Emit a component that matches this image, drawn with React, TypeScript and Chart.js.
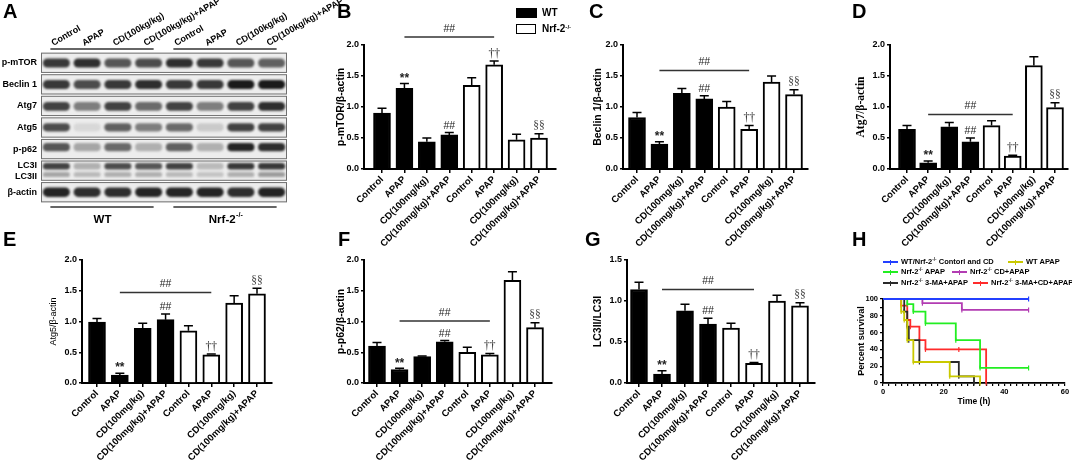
import React, { useEffect, useRef } from 'react';
import { Chart, registerables } from 'chart.js';
Chart.register(...registerables);

const W = 1072;
const H = 462;
const SANS = '"Liberation Sans", Arial, sans-serif';
const SERIF = '"Liberation Serif", "Times New Roman", serif';

// ---------- data ----------
const GROUPS = ['Control', 'APAP', 'CD(100mg/kg)', 'CD(100mg/kg)+APAP', 'Control', 'APAP', 'CD(100mg/kg)', 'CD(100mg/kg)+APAP'];
const MARKS = ['', '**', '', '##', '', '††', '', '§§'];

const PMTOR = [0.90, 1.30, 0.44, 0.55, 1.35, 1.68, 0.47, 0.50];
const PMTOR_SEM = [0.08, 0.08, 0.06, 0.04, 0.12, 0.06, 0.09, 0.07];
const BECLIN = [0.83, 0.40, 1.22, 1.13, 1.00, 0.64, 1.40, 1.20];
const BECLIN_SEM = [0.08, 0.04, 0.08, 0.05, 0.09, 0.06, 0.10, 0.08];
const ATG7 = [0.64, 0.10, 0.68, 0.44, 0.70, 0.21, 1.67, 0.99];
const ATG7_SEM = [0.06, 0.03, 0.07, 0.06, 0.08, 0.01, 0.14, 0.08];
const ATG5 = [0.99, 0.13, 0.89, 1.03, 0.85, 0.46, 1.30, 1.45];
const ATG5_SEM = [0.06, 0.03, 0.08, 0.09, 0.08, 0.01, 0.12, 0.09];
const P62 = [0.60, 0.22, 0.43, 0.67, 0.50, 0.46, 1.67, 0.90];
const P62_SEM = [0.06, 0.02, 0.01, 0.02, 0.08, 0.02, 0.14, 0.08];
const LC3 = [1.14, 0.11, 0.88, 0.72, 0.67, 0.24, 1.00, 0.94];
const LC3_SEM = [0.09, 0.04, 0.08, 0.07, 0.06, 0.01, 0.07, 0.04];

// blot
const LANES = ['Control', 'APAP', 'CD(100kg/kg)', 'CD(100kg/kg)+APAP', 'Control', 'APAP', 'CD(100kg/kg)', 'CD(100kg/kg)+APAP'];
const ROWS = ['p-mTOR', 'Beclin 1', 'Atg7', 'Atg5', 'p-p62', 'LC3I|LC3II', 'β-actin'];
const BAND_PMTOR = [0.85, 0.9, 0.7, 0.75, 0.9, 0.85, 0.7, 0.65];
const BAND_BECLIN = [0.85, 0.75, 0.85, 0.9, 0.85, 0.85, 1.0, 1.0];
const BAND_ATG7 = [0.8, 0.5, 0.8, 0.6, 0.8, 0.5, 0.8, 0.9];
const BAND_ATG5 = [0.75, 0.05, 0.65, 0.5, 0.6, 0.12, 0.8, 0.8];
const BAND_P62 = [0.7, 0.3, 0.6, 0.25, 0.65, 0.25, 0.95, 0.9];
const BAND_LC3I = [0.8, 0.25, 0.75, 0.7, 0.8, 0.2, 0.85, 0.85];
const BAND_LC3II = [0.3, 0.2, 0.25, 0.25, 0.2, 0.15, 0.25, 0.35];
const BAND_ACTIN = [0.95, 0.9, 0.9, 0.95, 0.95, 0.95, 0.9, 0.95];

// survival
const T_CTRL = [0, 48];
const S_CTRL = [100, 100];
const T_WT_APAP = [0, 6, 7, 8, 10, 22, 32];
const S_WT_APAP = [100, 85, 75, 51, 25, 8, 0];
const T_NRF_APAP = [0, 8, 10, 14, 24, 32, 48];
const S_NRF_APAP = [100, 94, 85, 71, 51, 18, 18];
const T_NRF_CD = [0, 13, 26, 48];
const S_NRF_CD = [100, 95, 87, 87];
const T_NRF_3MA = [0, 7, 8, 8.5, 12, 25, 30];
const S_NRF_3MA = [100, 85, 67, 51, 25, 8, 0];
const T_NRF_3MA_CD = [0, 6, 8, 9, 12, 14, 25, 34];
const S_NRF_3MA_CD = [100, 92, 75, 67, 51, 40, 40, 0];
const SURV_X_TICKS = [0, 20, 40, 60];
const SURV_Y_TICKS = [0, 20, 40, 60, 80, 100];

const SURV = [
  { key: 'ctrl', color: '#2340ff', t: T_CTRL, s: S_CTRL },
  { key: 'wt', color: '#c9c900', t: T_WT_APAP, s: S_WT_APAP },
  { key: 'nrf', color: '#22ee22', t: T_NRF_APAP, s: S_NRF_APAP },
  { key: 'cd', color: '#b23cb2', t: T_NRF_CD, s: S_NRF_CD },
  { key: '3ma', color: '#2a2a2a', t: T_NRF_3MA, s: S_NRF_3MA },
  { key: '3macd', color: '#ff2b2b', t: T_NRF_3MA_CD, s: S_NRF_3MA_CD },
];

// ---------- layout ----------
type BarPanel = {
  id: string; values: number[]; sem: number[]; ymax: number;
  top: number; bottom: number; axisX: number; c1: number; c8: number; right: number;
  title: string; titleX: number; titleFont: any; bracket: number;
};

const TITLE_BOLD = { family: SANS, size: 10.5, weight: 'bold' };

const BAR_PANELS: BarPanel[] = [
  { id: 'B', values: PMTOR, sem: PMTOR_SEM, ymax: 2, top: 45, bottom: 169, axisX: 364, c1: 382, c8: 539, right: 556, title: 'p-mTOR/β-actin', titleX: 341, titleFont: TITLE_BOLD, bracket: 2.13 },
  { id: 'C', values: BECLIN, sem: BECLIN_SEM, ymax: 2, top: 45, bottom: 169, axisX: 623, c1: 637, c8: 794, right: 808, title: 'Beclin 1/β-actin', titleX: 598, titleFont: TITLE_BOLD, bracket: 1.59 },
  { id: 'D', values: ATG7, sem: ATG7_SEM, ymax: 2, top: 45, bottom: 169, axisX: 890, c1: 907, c8: 1055, right: 1068, title: 'Atg7/β-actin', titleX: 861, titleFont: { family: SERIF, size: 11.5, weight: 'bold' }, bracket: 0.88 },
  { id: 'E', values: ATG5, sem: ATG5_SEM, ymax: 2, top: 260, bottom: 383, axisX: 82, c1: 97, c8: 257, right: 272, title: 'Atg5/β-actin', titleX: 54, titleFont: { family: SANS, size: 9, weight: 'normal' }, bracket: 1.47 },
  { id: 'F', values: P62, sem: P62_SEM, ymax: 2, top: 260, bottom: 383, axisX: 364, c1: 377, c8: 535, right: 552, title: 'p-p62/β-actin', titleX: 341, titleFont: TITLE_BOLD, bracket: 1.01 },
  { id: 'G', values: LC3, sem: LC3_SEM, ymax: 1.5, top: 260, bottom: 383, axisX: 627, c1: 639, c8: 800, right: 815, title: 'LC3II/LC3I', titleX: 598, titleFont: TITLE_BOLD, bracket: 1.14 },
];

function markFont(m: string) {
  if (m === '**') return `bold 12px ${SANS}`;
  if (m === '##') return `10.5px ${SANS}`;
  return `11.5px ${SERIF}`;
}

function makeBar(canvas: HTMLCanvasElement, p: BarPanel) {
  const spacing = (p.c8 - p.c1) / 7;
  const xmin = -(p.c1 - p.axisX) / spacing;
  const xmax = 7 + (p.right - p.c8) / spacing;
  const scaleLeft = p.titleX - 0.6 * p.titleFont.size;
  const yW = p.axisX - scaleLeft;
  const XH = 80;
  const fills = p.values.map((_, i) => (i < 4 ? '#000' : '#fff'));
  const extras = {
    id: 'extras' + p.id,
    afterDatasetsDraw(chart: any) {
      const { ctx } = chart;
      const x = chart.scales.x;
      const y = chart.scales.y;
      const meta = chart.getDatasetMeta(0);
      ctx.save();
      ctx.strokeStyle = '#000';
      ctx.lineWidth = 1.5;
      meta.data.forEach((el: any, i: number) => {
        const yt = y.getPixelForValue(p.values[i] + p.sem[i]);
        const yb = y.getPixelForValue(p.values[i]);
        ctx.beginPath();
        ctx.moveTo(el.x, yb);
        ctx.lineTo(el.x, yt);
        ctx.moveTo(el.x - 4.5, yt);
        ctx.lineTo(el.x + 4.5, yt);
        ctx.stroke();
        const m = MARKS[i];
        if (m) {
          ctx.font = markFont(m);
          ctx.fillStyle = m === '§§' ? '#444' : '#222';
          ctx.textAlign = 'center';
          ctx.textBaseline = 'bottom';
          ctx.fillText(m, el.x, yt - (m === '**' ? -1 : 1.5));
        }
      });
      const x1 = x.getPixelForValue(1);
      const x5 = x.getPixelForValue(5);
      const yl = y.getPixelForValue(p.bracket);
      ctx.strokeStyle = '#333';
      ctx.lineWidth = 1.5;
      ctx.beginPath();
      ctx.moveTo(x1, yl);
      ctx.lineTo(x5, yl);
      ctx.stroke();
      ctx.font = `10.5px ${SANS}`;
      ctx.fillStyle = '#222';
      ctx.textAlign = 'center';
      ctx.textBaseline = 'bottom';
      ctx.fillText('##', (x1 + x5) / 2, yl - 3);
      ctx.restore();
    },
  };
  return new Chart(canvas, {
    type: 'bar',
    data: {
      datasets: [{
        data: p.values.map((v, i) => ({ x: i, y: v })),
        backgroundColor: fills,
        borderColor: '#000',
        borderWidth: 2,
        barThickness: 17,
        borderSkipped: 'start',
      } as any],
    },
    options: {
      responsive: false,
      animation: false,
      layout: { padding: { left: scaleLeft, top: p.top, right: W - p.right, bottom: H - p.bottom - XH } },
      plugins: { legend: { display: false }, tooltip: { enabled: false } },
      scales: {
        x: {
          type: 'linear',
          min: xmin,
          max: xmax,
          offset: false,
          afterBuildTicks: (s: any) => { s.ticks = GROUPS.map((_, i) => ({ value: i })); },
          afterFit: (s: any) => { s.height = XH; },
          ticks: {
            autoSkip: false,
            minRotation: 45,
            maxRotation: 45,
            padding: 1,
            color: '#000',
            font: { family: SANS, size: 9.5, weight: 'bold' },
            callback: (v: any) => GROUPS[Math.round(Number(v))] ?? '',
          },
          grid: { offset: false, drawOnChartArea: false, drawTicks: true, tickLength: 4, color: '#000', lineWidth: 1.5 },
          border: { display: true, color: '#000', width: 2 },
        } as any,
        y: {
          min: 0,
          max: p.ymax,
          afterFit: (s: any) => { s.width = yW; },
          ticks: {
            stepSize: 0.5,
            padding: 2,
            color: '#000',
            font: { family: SANS, size: 9, weight: 'bold' },
            callback: (v: any) => Number(v).toFixed(1),
          },
          grid: { drawOnChartArea: false, drawTicks: true, tickLength: 3, color: '#000', lineWidth: 1.5 },
          border: { display: true, color: '#000', width: 2 },
          title: { display: true, text: p.title, color: '#000', font: p.titleFont, padding: 0 },
        } as any,
      },
    },
    plugins: [extras],
  } as any);
}

function shade(v: number) {
  const g = Math.round(226 - 200 * v);
  return `rgb(${g},${g},${g})`;
}

function makeBlot(canvas: HTMLCanvasElement) {
  const bands = [
    { row: 0, lo: 0.3, hi: 0.72, vals: BAND_PMTOR },
    { row: 1, lo: 0.3, hi: 0.72, vals: BAND_BECLIN },
    { row: 2, lo: 0.32, hi: 0.72, vals: BAND_ATG7 },
    { row: 3, lo: 0.3, hi: 0.68, vals: BAND_ATG5 },
    { row: 4, lo: 0.22, hi: 0.6, vals: BAND_P62 },
    { row: 5, lo: 0.15, hi: 0.45, vals: BAND_LC3I },
    { row: 5, lo: 0.56, hi: 0.8, vals: BAND_LC3II },
    { row: 6, lo: 0.28, hi: 0.72, vals: BAND_ACTIN },
  ];
  const deco = {
    id: 'blotDeco',
    beforeDatasetsDraw(chart: any) {
      const { ctx, chartArea } = chart;
      const y = chart.scales.y;
      ctx.save();
      ROWS.forEach((_, r) => {
        const t = y.getPixelForValue(r + 0.03);
        const b = y.getPixelForValue(r + 0.97);
        ctx.fillStyle = '#ededed';
        ctx.fillRect(chartArea.left, t, chartArea.right - chartArea.left, b - t);
        ctx.strokeStyle = '#6f6f6f';
        ctx.lineWidth = 1;
        ctx.strokeRect(chartArea.left + 0.5, t + 0.5, chartArea.right - chartArea.left - 1, b - t - 1);
      });
      ctx.restore();
      ctx.save();
      ctx.filter = 'blur(1.3px)';
    },
    afterDatasetsDraw(chart: any) {
      chart.ctx.restore();
    },
    afterDraw(chart: any) {
      const { ctx } = chart;
      const x = chart.scales.x;
      ctx.save();
      ctx.fillStyle = '#000';
      ctx.font = `bold 9px ${SANS}`;
      ctx.textAlign = 'left';
      ctx.textBaseline = 'alphabetic';
      LANES.forEach((l, i) => {
        ctx.save();
        ctx.translate(x.getPixelForValue(i) - 3, 46);
        ctx.rotate(-30 * Math.PI / 180);
        ctx.fillText(l, 0, 0);
        ctx.restore();
      });
      ctx.strokeStyle = '#333';
      ctx.lineWidth = 1.3;
      const seg = (a: number, b: number, yy: number) => {
        ctx.beginPath();
        ctx.moveTo(x.getPixelForValue(a) - 6, yy);
        ctx.lineTo(x.getPixelForValue(b) + 5, yy);
        ctx.stroke();
      };
      seg(0, 3, 49);
      seg(4, 7, 49);
      seg(0, 3, 207);
      seg(4, 7, 207);
      const c1 = (x.getPixelForValue(0) + x.getPixelForValue(3)) / 2;
      const c2 = (x.getPixelForValue(4) + x.getPixelForValue(7)) / 2;
      ctx.font = `bold 11.5px ${SANS}`;
      ctx.textAlign = 'center';
      ctx.fillText('WT', c1, 223);
      ctx.textAlign = 'left';
      const w1 = ctx.measureText('Nrf-2').width;
      ctx.font = `bold 7px ${SANS}`;
      const w2 = ctx.measureText('-/-').width;
      const x0 = c2 - (w1 + w2) / 2;
      ctx.fillText('-/-', x0 + w1 + 0.5, 217);
      ctx.font = `bold 11.5px ${SANS}`;
      ctx.fillText('Nrf-2', x0, 223);
      ctx.restore();
    },
  };
  return new Chart(canvas, {
    type: 'bar',
    data: {
      labels: LANES,
      datasets: bands.map((b) => ({
        data: b.vals.map(() => [b.row + b.lo, b.row + b.hi]),
        backgroundColor: b.vals.map(shade),
        borderWidth: 0,
        borderRadius: 5,
        borderSkipped: false,
        grouped: false,
        barPercentage: 0.88,
        categoryPercentage: 1,
      })) as any,
    },
    options: {
      responsive: false,
      animation: false,
      layout: { padding: { left: 0, top: 52, right: W - 287, bottom: H - 203 } },
      plugins: { legend: { display: false }, tooltip: { enabled: false } },
      scales: {
        x: { display: false, offset: true } as any,
        y: {
          reverse: true,
          min: 0,
          max: 7,
          afterBuildTicks: (s: any) => { s.ticks = ROWS.map((_, i) => ({ value: i + 0.5 })); },
          afterFit: (s: any) => { s.width = 41; },
          ticks: {
            padding: 4,
            color: '#000',
            font: { family: SANS, size: 9, weight: 'bold' },
            callback: (_v: any, i: number) => ROWS[i].split('|'),
          },
          grid: { display: false, drawTicks: false },
          border: { display: false },
        } as any,
      },
    },
    plugins: [deco],
  } as any);
}

function makeSurvival(canvas: HTMLCanvasElement) {
  const left = 883, right = 1065, top = 299, bottom = 383;
  const titleX = 862, titleSize = 9;
  const scaleLeft = titleX - 0.6 * titleSize;
  const XH = 24;
  const xTicks: number[] = [];
  for (let v = 0; v <= 60; v += 2) xTicks.push(v);
  const yTicks: number[] = [];
  for (let v = 0; v <= 100; v += 10) yTicks.push(v);
  return new Chart(canvas, {
    type: 'line',
    data: {
      datasets: SURV.map((d) => ({
        data: d.t.map((t, i) => ({ x: t, y: d.s[i] })),
        borderColor: d.color,
        backgroundColor: d.color,
        borderWidth: 1.8,
        stepped: true,
        fill: false,
        clip: 4,
        pointStyle: 'line',
        rotation: 90,
        pointRadius: (c: any) => (c.dataIndex === 0 ? 0 : 2.5),
        pointBorderWidth: 1.2,
        pointBorderColor: d.color,
      })) as any,
    },
    options: {
      responsive: false,
      animation: false,
      layout: { padding: { left: scaleLeft, top, right: W - right, bottom: H - bottom - XH } },
      plugins: { legend: { display: false }, tooltip: { enabled: false } },
      scales: {
        x: {
          type: 'linear',
          min: 0,
          max: 60,
          afterBuildTicks: (s: any) => { s.ticks = xTicks.map((v) => ({ value: v })); },
          afterFit: (s: any) => { s.height = XH; },
          ticks: {
            autoSkip: false,
            maxRotation: 0,
            padding: 1,
            color: '#000',
            font: { family: SANS, size: 7.5, weight: 'bold' },
            callback: (v: any) => (SURV_X_TICKS.includes(Number(v)) ? String(v) : ''),
          },
          grid: { drawOnChartArea: false, tickLength: 3, color: '#000', lineWidth: 1.2 },
          border: { color: '#000', width: 1.8 },
          title: { display: true, text: 'Time (h)', color: '#000', font: { family: SANS, size: 8.5, weight: 'bold' }, padding: 0 },
        } as any,
        y: {
          min: 0,
          max: 100,
          afterBuildTicks: (s: any) => { s.ticks = yTicks.map((v) => ({ value: v })); },
          afterFit: (s: any) => { s.width = left - scaleLeft; },
          ticks: {
            autoSkip: false,
            padding: 2,
            color: '#000',
            font: { family: SANS, size: 7.5, weight: 'bold' },
            callback: (v: any) => (SURV_Y_TICKS.includes(Number(v)) ? String(v) : ''),
          },
          grid: { drawOnChartArea: false, tickLength: 3, color: '#000', lineWidth: 1.2 },
          border: { color: '#000', width: 1.8 },
          title: { display: true, text: 'Percent survival', color: '#000', font: { family: SANS, size: titleSize, weight: 'bold' }, padding: 0 },
        } as any,
      },
    },
  } as any);
}

// ---------- overlay text ----------
const LETTERS = [
  { t: 'A', x: 3, y: 1 }, { t: 'B', x: 337, y: 1 }, { t: 'C', x: 589, y: 1 }, { t: 'D', x: 852, y: 1 },
  { t: 'E', x: 3, y: 229 }, { t: 'F', x: 338, y: 229 }, { t: 'G', x: 585, y: 229 }, { t: 'H', x: 852, y: 229 },
];

const SURV_LEGEND = [
  { color: '#2340ff', pre: 'WT/Nrf-2', sup: true, post: ' Contorl and CD', x: 883, y: 262 },
  { color: '#c9c900', pre: 'WT APAP', sup: false, post: '', x: 1008, y: 262 },
  { color: '#22ee22', pre: 'Nrf-2', sup: true, post: ' APAP', x: 883, y: 272 },
  { color: '#b23cb2', pre: 'Nrf-2', sup: true, post: ' CD+APAP', x: 952, y: 272 },
  { color: '#2a2a2a', pre: 'Nrf-2', sup: true, post: ' 3-MA+APAP', x: 883, y: 283 },
  { color: '#ff2b2b', pre: 'Nrf-2', sup: true, post: ' 3-MA+CD+APAP', x: 973, y: 283 },
];

const abs = (o: any) => ({ position: 'absolute' as const, ...o });

export default function App() {
  const refs = useRef<(HTMLCanvasElement | null)[]>([]);
  useEffect(() => {
    const c = refs.current;
    const charts: Chart[] = [];
    charts.push(makeBlot(c[0]!));
    BAR_PANELS.forEach((p, i) => charts.push(makeBar(c[i + 1]!, p)));
    charts.push(makeSurvival(c[7]!));
    return () => charts.forEach((ch) => ch.destroy());
  }, []);

  const supStyle = { fontSize: '0.62em', position: 'relative' as const, top: '-0.45em' };

  return (
    <div style={abs({ left: 0, top: 0, width: W, height: H, background: '#fff', overflow: 'hidden', fontFamily: SANS })}>
      {Array.from({ length: 8 }).map((_, i) => (
        <canvas key={i} ref={(el) => { refs.current[i] = el; }} width={W} height={H} style={abs({ left: 0, top: 0 })} />
      ))}
      {LETTERS.map((l) => (
        <div key={l.t} style={abs({ left: l.x, top: l.y, font: `bold 20px ${SANS}`, lineHeight: '20px', color: '#000' })}>{l.t}</div>
      ))}
      {/* legend for bar panels */}
      <div style={abs({ left: 516, top: 8, width: 21, height: 10, background: '#000' })} />
      <div style={abs({ left: 542, top: 6, font: `bold 10px ${SANS}`, lineHeight: '13px' })}>WT</div>
      <div style={abs({ left: 516, top: 24, width: 18, height: 8, border: '1.5px solid #000', background: '#fff' })} />
      <div style={abs({ left: 542, top: 22, font: `bold 10px ${SANS}`, lineHeight: '13px', whiteSpace: 'nowrap' })}>Nrf-2<span style={supStyle}>-/-</span></div>
      {/* survival legend */}
      {SURV_LEGEND.map((s, i) => (
        <React.Fragment key={i}>
          <div style={abs({ left: s.x, top: s.y - 1, width: 15, height: 2, background: s.color })} />
          <div style={abs({ left: s.x + 7, top: s.y - 2.5, width: 1.3, height: 5, background: s.color })} />
          <div style={abs({ left: s.x + 18, top: s.y - 5.5, font: `bold 7.5px ${SANS}`, lineHeight: '10px', whiteSpace: 'nowrap', color: '#000' })}>
            {s.pre}{s.sup ? <span style={supStyle}>-/-</span> : null}{s.post}
          </div>
        </React.Fragment>
      ))}
    </div>
  );
}
